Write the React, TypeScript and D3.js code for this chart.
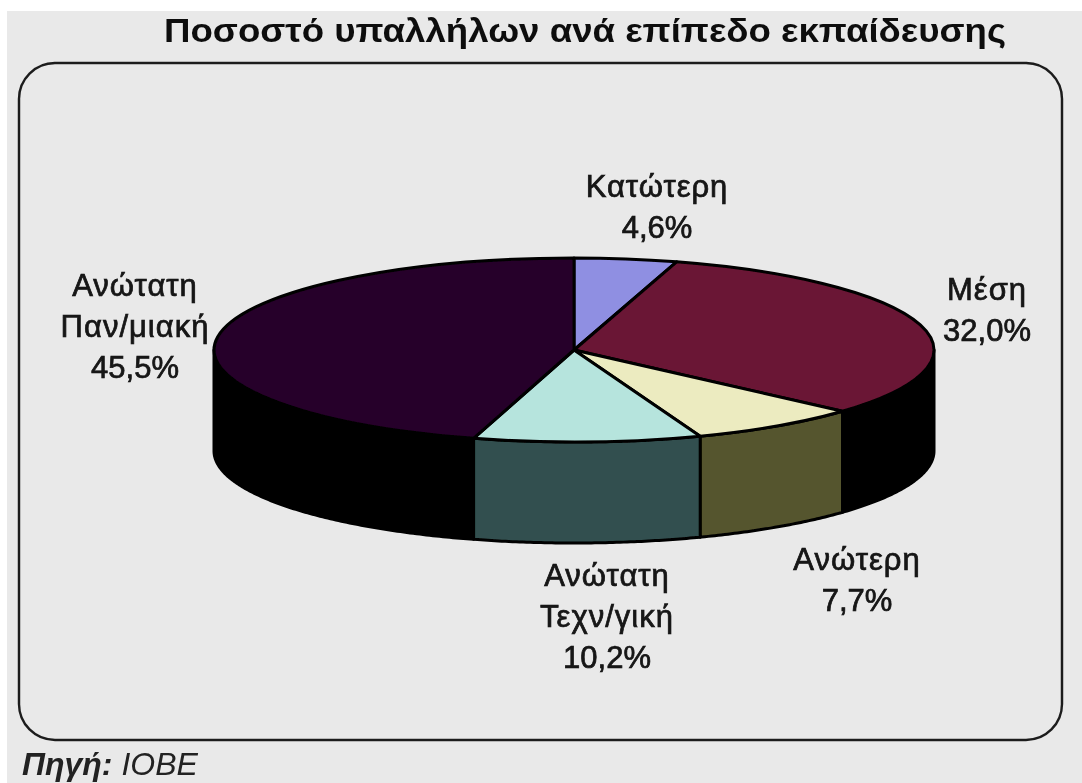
import * as d3 from 'd3';

// Pie data
const categories = ['Κατώτερη', 'Μέση', 'Ανώτερη', 'Ανώτατη Τεχν/γική', 'Ανώτατη Παν/μιακή'];
const shares = [4.6, 32.0, 7.7, 10.2, 45.5];
const topColors = ['#8f8fe2', '#6a1534', '#ecebc0', '#b6e4dd', '#260429'];
const sideColors = ['#47477a', '#000000', '#55552f', '#33504f', '#000000'];

const labelLines = [
  ['Κατώτερη', '4,6%'],
  ['Μέση', '32,0%'],
  ['Ανώτερη', '7,7%'],
  ['Ανώτατη', 'Τεχν/γική', '10,2%'],
  ['Ανώτατη', 'Παν/μιακή', '45,5%'],
];
const labelPos: [number, number][] = [
  [657, 197],
  [987, 300],
  [857, 570],
  [607, 586],
  [135, 296],
];

const W = 1082;
const H = 783;
const CX = 574;
const CY = 350;
const RX = 360;
const RY = 92;
const DEPTH = 101;
const FONT = '"Liberation Sans", Arial, sans-serif';

const pieGen = d3.pie<number>().sort(null).value((d) => d);
const arcs = pieGen(shares);
const arcGen = d3.arc<d3.PieArcDatum<number>>().innerRadius(0).outerRadius(RX);

// Wall of a slice: only the front half of the rim (90deg..270deg) shows
function wallPath(a0: number, a1: number) {
  const from = Math.max(a0, Math.PI / 2);
  const to = Math.min(a1, (3 * Math.PI) / 2);
  if (from >= to) return null;
  const steps = d3.range(from, to, 0.01).concat(to);
  return d3.area<number>()
    .x((a) => CX + RX * Math.sin(a))
    .y0((a) => CY - RY * Math.cos(a))
    .y1((a) => CY - RY * Math.cos(a) + DEPTH)(steps);
}

export default function App() {
  return (
    <svg width={W} height={H} style={{ position: 'absolute', left: 0, top: 0 }} fontFamily={FONT}>
      <defs>
        <filter id="soft" x="-5%" y="-5%" width="110%" height="110%">
          <feGaussianBlur stdDeviation="0.7" />
        </filter>
      </defs>
      <rect width={W} height={H} fill="#ffffff" />
      <rect x={7} y={11} width={W - 7} height={H - 11} fill="#e9e9e9" />
      <g filter="url(#soft)">
        <rect x={19} y={63} width={1043} height={677} rx={36} ry={36} fill="none" stroke="#1c1c1c" strokeWidth={2.4} />

        <text x={585} y={42} textAnchor="middle" fontSize={34} fontWeight="bold" fill="#111" textLength={842} lengthAdjust="spacingAndGlyphs">
          Ποσοστό υπαλλήλων ανά επίπεδο εκπαίδευσης
        </text>

        {arcs.map((d, i) => {
          const wall = wallPath(d.startAngle, d.endAngle);
          return wall ? (
            <path key={categories[i]} d={wall} fill={sideColors[i]} stroke="#000" strokeWidth={3} strokeLinejoin="round" />
          ) : null;
        })}

        <g transform={`translate(${CX},${CY}) scale(1,${RY / RX})`}>
          {arcs.map((d, i) => (
            <path
              key={categories[i]}
              d={arcGen(d) ?? undefined}
              fill={topColors[i]}
              stroke="#000"
              strokeWidth={3}
              strokeLinejoin="round"
              vectorEffect="non-scaling-stroke"
            />
          ))}
        </g>

        {labelLines.map((lines, i) => (
          <text key={i} textAnchor="middle" fontSize={31} fill="#141414" stroke="#141414" strokeWidth={0.7}>
            {lines.map((line, j) => (
              <tspan
                key={line}
                x={labelPos[i][0]}
                y={labelPos[i][1] + j * 41}
                letterSpacing={line.includes('%') ? 0 : 1}
              >
                {line}
              </tspan>
            ))}
          </text>
        ))}

        <text x={22} y={775} fontSize={32} fontStyle="italic" fill="#222">
          <tspan fontWeight="bold">Πηγή:</tspan> ΙΟΒΕ
        </text>
      </g>
    </svg>
  );
}
